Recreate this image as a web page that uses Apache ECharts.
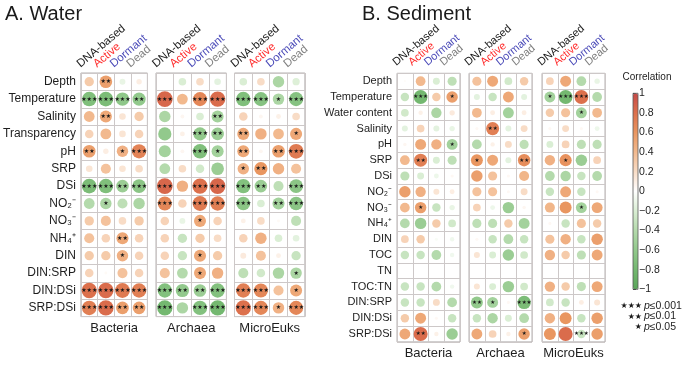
<!DOCTYPE html>
<html><head><meta charset="utf-8">
<script src="https://cdn.jsdelivr.net/npm/echarts/dist/echarts.min.js"></script>
<style>html,body{margin:0;padding:0;background:#fff}#c{width:692px;height:380px}</style>
</head><body><div id="c"></div>
<script>
const columns = ['DNA-based','Active','Dormant','Dead'];
const columnColors = ['#1a1a1a','#ff2a2a','#4a4ab8','#808080'];
const groups = ['Bacteria','Archaea','MicroEuks'];
const waterRows = ['Depth','Temperature','Salinity','Transparency','pH','SRP','DSi','NO₂⁻','NO₃⁻','NH₄⁺','DIN','DIN:SRP','DIN:DSi','SRP:DSi'];
const sedRows = ['Depth','Temperature','Water content','Salinity','pH','SRP','DSi','NO₂⁻','NO₃⁻','NH₄⁺','DIN','TOC','TN','TOC:TN','DIN:SRP','DIN:DSi','SRP:DSi'];

// Water
const wBacR = [[0.3,0.55,-0.12,0.1],[-0.72,-0.75,-0.62,-0.6],[0.4,0.5,0.15,0.3],[0.25,0.4,0.15,0.25],[0.55,0.1,0.45,0.7],[0.15,0.35,0.15,0.2],[-0.75,-0.72,-0.55,-0.65],[-0.4,-0.45,-0.35,-0.45],[0.3,0.35,0.2,0.3],[0.35,0.25,0.5,0.25],[0.3,0.3,0.45,0.25],[0.25,0.03,0.35,0.25],[0.8,0.82,0.75,0.72],[0.72,0.82,0.55,0.55]];
const wBacSig = ['0200','3332','0200','0000','2013','0000','3323','0100','0000','0020','0010','0000','3333','3322'];
const wArcR = [[0,-0.2,0.2,-0.15],[0.85,0.4,0.68,0.82],[-0.45,0.05,-0.2,-0.5],[-0.6,0.08,-0.6,-0.55],[-0.5,0.05,-0.72,-0.5],[-0.4,0.2,-0.25,-0.55],[0.85,0.45,0.8,0.85],[0.68,0.25,0.75,0.72],[0.25,-0.12,0.5,0.25],[0.25,-0.3,0.3,0.2],[0.25,-0.3,0.5,0.3],[0.35,-0.4,0.5,0.45],[-0.7,-0.6,-0.55,-0.7],[-0.8,-0.45,-0.7,-0.8]];
const wArcSig = ['0000','3033','0002','0032','0031','0000','3033','3033','0010','0000','0010','0010','3223','3033'];
const wEukR = [[-0.2,0.2,-0.45,-0.18],[-0.72,-0.68,-0.45,-0.68],[0.25,0.05,0.08,0.2],[0.5,0.45,0.4,0.5],[0.5,0.05,0.55,0.75],[0.45,0.6,0.45,0.35],[-0.7,-0.55,-0.35,-0.65],[-0.65,-0.2,-0.5,-0.65],[0.08,0.2,0.03,-0.35],[0.25,0.45,-0.2,-0.15],[0.12,0.35,0.08,-0.3],[-0.35,-0.25,-0.45,-0.45],[0.72,0.68,0.35,0.5],[0.8,0.68,0.45,0.68]];
const wEukSig = ['0000','3313','0000','2001','2023','1200','3203','3023','0000','0000','0000','0001','3301','3313'];

// Sediment
const sBacR = [[0.02,0.4,-0.2,-0.35],[-0.3,-0.8,0.3,0.55],[-0.25,0.08,-0.45,0.12],[-0.15,0.25,-0.15,-0.12],[0.05,0.5,0.45,-0.5],[0.4,0.72,-0.2,-0.35],[-0.35,-0.2,-0.1,0.04],[0.55,0.45,0.15,0.1],[0.4,0.55,-0.3,-0.12],[-0.4,-0.55,0.3,-0.25],[0.25,0.3,-0.04,-0.08],[-0.3,-0.3,-0.4,-0.08],[0,0,0,0],[-0.3,-0.3,-0.4,-0.08],[-0.3,-0.3,0.2,-0.4],[0.3,0.5,0.04,-0.3],[0.5,0.82,0.08,-0.55]];
const sBacSig = ['0000','0301','0000','0000','0001','0200','0000','0000','0100','0000','0000','0000','0000','0000','0000','0000','0200'];
const sArcR = [[0.35,0.5,-0.25,0.3],[-0.15,-0.3,0.5,-0.15],[0.4,0.1,-0.5,0.1],[0.04,0.72,-0.15,0.2],[-0.4,0.08,0.2,-0.35],[0.6,0.5,-0.15,0.65],[0.55,0.35,0.04,0.42],[0.35,0.35,0.04,0.2],[0.25,-0.1,-0.55,0.05],[-0.35,-0.35,0.3,-0.5],[0.04,-0.3,-0.4,-0.3],[0.15,-0.2,-0.55,-0.25],[0,0,0,0],[0.15,-0.2,-0.55,-0.25],[-0.6,-0.5,0.04,-0.75],[-0.3,-0.45,-0.2,-0.4],[0.5,0.25,0.08,0.55]];
const sArcSig = ['0000','0000','0000','0200','0000','1002','0000','0000','0000','0000','0000','0000','0000','0000','2103','0000','0001'];
const sEukR = [[0.25,0.5,-0.4,-0.12],[-0.5,-0.8,0.8,-0.4],[0.3,0.35,-0.5,0.4],[0.04,0.2,0.04,-0.1],[-0.2,0.25,-0.35,-0.35],[0.45,0.62,-0.55,0.25],[-0.4,-0.45,-0.3,-0.4],[-0.3,0.5,-0.3,0.04],[0.42,0.6,-0.5,0.5],[0.04,-0.3,0.35,0.3],[0.35,0.45,-0.3,0.55],[0.45,0.3,-0.35,0.5],[0,0,0,0],[0.45,0.3,-0.35,0.5],[-0.25,-0.3,0.1,0.15],[0.45,0.6,-0.3,0.55],[0.6,0.82,-0.3,0.55]];
const sEukSig = ['0000','1330','0010','0000','0000','0100','0000','0000','0010','0000','0000','0000','0000','0000','0000','0000','0030'];

const sigLegend = [['★★★','0.001'],['★★','0.01'],['★','0.05']];

const FONT = 'Liberation Sans, Arial, sans-serif';
const panels = [
  {rows: waterRows, top: 73, rowH: 17.4, cellW: 17.6, lefts: [77, 156, 234.5], labelSize: 12, hdrY: 70, groupY: 328,
   data: [[wBacR, wBacSig],[wArcR, wArcSig],[wEukR, wEukSig]]},
  {rows: sedRows, top: 73.3, rowH: 15.8, cellW: 15.75, lefts: [397, 469, 542], labelSize: 11, hdrY: 68, groupY: 353,
   data: [[sBacR, sBacSig],[sArcR, sArcSig],[sEukR, sEukSig]]}
];

const grids = [], xAxes = [], yAxes = [], series = [];
panels.forEach((p, pi) => {
  p.lefts.forEach((left, gi) => {
    const idx = grids.length;
    grids.push({left: left, top: p.top, width: p.cellW * 4, height: p.rowH * p.rows.length,
      show: true, borderColor: '#b4b0b0', borderWidth: 1, backgroundColor: 'transparent'});
    xAxes.push({type: 'category', data: columns, gridIndex: idx,
      axisLine: {show: false}, axisTick: {show: false}, axisLabel: {show: false, interval: 0},
      splitLine: {show: true, interval: 0, lineStyle: {color: '#cdc8c8', width: 1}}});
    yAxes.push({type: 'category', data: p.rows, gridIndex: idx, inverse: true,
      axisLine: {show: false}, axisTick: {show: false},
      axisLabel: {show: gi === 0, interval: 0, fontSize: p.labelSize, color: '#1e1e1e', fontFamily: FONT, margin: 5},
      splitLine: {show: true, interval: 0, lineStyle: {color: '#cdc8c8', width: 1}}});
    const [vals, sigs] = p.data[gi];
    const pts = [];
    vals.forEach((row, ri) => row.forEach((v, ci) => pts.push([ci, ri, v, +sigs[ri][ci]])));
    const maxD = Math.min(p.cellW, p.rowH) * 0.98;
    series.push({type: 'scatter', xAxisIndex: idx, yAxisIndex: idx, data: pts,
      symbol: 'circle',
      symbolSize: d => maxD * Math.sqrt(Math.abs(d[2])),
      silent: true,
      label: {show: true, position: 'inside', formatter: prm => '★'.repeat(prm.value[3]),
        fontSize: pi === 0 ? 6 : 5.5, color: '#1a1a1a', fontFamily: 'DejaVu Sans'},
      labelLayout: {hideOverlap: false},
      itemStyle: {opacity: 1}});
  });
});

// colorbar axis grid
const cbIdx = grids.length;
grids.push({left: 633, top: 93.3, width: 5, height: 196, show: true, borderColor: '#555', borderWidth: 0.8, z: 10, backgroundColor: 'transparent'});
xAxes.push({type: 'value', gridIndex: cbIdx, min: 0, max: 1, show: false});
yAxes.push({type: 'value', gridIndex: cbIdx, min: -1, max: 1, interval: 0.2, position: 'right',
  axisLine: {show: false}, splitLine: {show: false},
  axisTick: {show: true, length: 3, lineStyle: {color: '#333', width: 1}},
  axisLabel: {fontSize: 10.5, margin: 1, color: '#222', fontFamily: FONT,
    formatter: v => String(Math.round(v * 10) / 10).replace('-', '−')}});

const chart = echarts.init(document.getElementById('c'), null, {renderer: 'canvas'});
chart.setOption({
  backgroundColor: '#fff',
  animation: false,
  grid: grids, xAxis: xAxes, yAxis: yAxes, series: series,
  visualMap: {type: 'continuous', min: -1, max: 1, dimension: 2,
    seriesIndex: series.map((s, i) => i), left: 633, top: 93.3, itemWidth: 5, itemHeight: 196,
    calculable: false, padding: 0, showLabel: false, hoverLink: false,
    inRange: {color: ['#5aa65a','#74b870','#92c98c','#b4daac','#daeed4','#ffffff','#f8dcc6','#f2b98e','#e99660','#dc704c','#c64a48']}}
});

// text elements positioned via the axes' scales
const g = [];
g.push({type: 'text', left: 5, top: 4, style: {text: 'A. Water', fontSize: 20, fill: '#1a1a1a', fontFamily: FONT}});
g.push({type: 'text', left: 362, top: 4, style: {text: 'B. Sediment', fontSize: 20, fill: '#1a1a1a', fontFamily: FONT}});
let gIdx = 0;
panels.forEach((p, pi) => {
  p.lefts.forEach((left, gi) => {
    columns.forEach((c, ci) => {
      const px = chart.convertToPixel({gridIndex: gIdx}, [ci, 0]);
      g.push({type: 'text', x: px[0] - 7, y: p.hdrY, rotation: 40 * Math.PI / 180,
        style: {text: c, fontSize: pi === 0 ? 11.5 : 11, fill: columnColors[ci], fontFamily: FONT,
          textAlign: 'left', textVerticalAlign: 'bottom'}});
    });
    const a = chart.convertToPixel({gridIndex: gIdx}, [1, 0]);
    const b = chart.convertToPixel({gridIndex: gIdx}, [2, 0]);
    g.push({type: 'text', x: (a[0] + b[0]) / 2, y: p.groupY,
      style: {text: groups[gi], fontSize: 13, fill: '#1e1e1e', fontFamily: FONT, textAlign: 'center', textVerticalAlign: 'middle'}});
    gIdx++;
  });
});
g.push({type: 'text', x: 647, y: 77, style: {text: 'Correlation', fontSize: 10, fill: '#1e1e1e', fontFamily: FONT, textAlign: 'center', textVerticalAlign: 'middle'}});
sigLegend.forEach((s, i) => {
  const y = 306 + i * 10.5;
  g.push({type: 'text', x: 642, y: y, style: {text: s[0], fontSize: 8, fill: '#1a1a1a', fontFamily: 'DejaVu Sans', textAlign: 'right', textVerticalAlign: 'middle'}});
  g.push({type: 'text', x: 644, y: y, style: {text: '{i|p}≤' + s[1], fontSize: 10.5, fill: '#1e1e1e', fontFamily: FONT, textAlign: 'left', textVerticalAlign: 'middle',
    rich: {i: {fontStyle: 'italic', fontSize: 10.5, fontFamily: FONT, fill: '#1e1e1e'}}}});
});
chart.setOption({graphic: g});
</script></body></html>
